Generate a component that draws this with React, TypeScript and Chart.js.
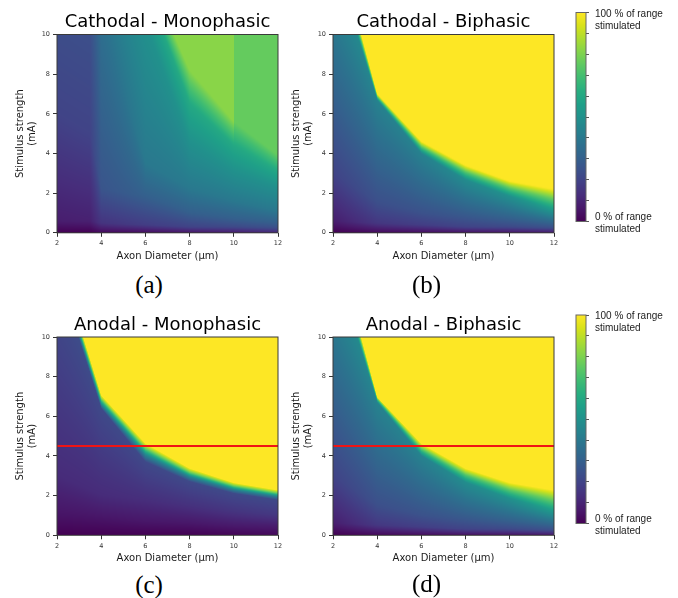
import React, { useEffect, useRef } from 'react';
import { Chart, registerables } from 'chart.js';

Chart.register(...registerables);

// ---------- axes ----------
const diameterRange = [2, 12];
const strengthRange = [0, 10];
const redLineStrength = 4.5;
const colorbarTopLabel = ['100 % of range', 'stimulated'];
const colorbarBottomLabel = ['0 % of range', 'stimulated'];

// ---------- data: per axon diameter column, strength knots (mA) and fraction of range stimulated ----------
// Cathodal - Monophasic (column at 10 appears twice: the map jumps there)
const cathMonoDiameters = [2, 3.5, 4, 6, 8, 10, 10, 12];
const cathMonoStrengths = [
  [0, 0.6, 6, 14, 20, 26, 30, 40],
  [0, 0.6, 5, 14, 20, 26, 30, 40],
  [0, 0.5, 2.2, 11, 15, 18, 22, 40],
  [0, 0.4, 1.8, 3.5, 10.6, 12.5, 13.3, 40],
  [0, 0.3, 1.0, 2.2, 4.6, 6.5, 8.2, 40],
  [0, 0.3, 0.7, 1.6, 3.1, 4.4, 5.6, 40],
  [0, 0.3, 0.7, 1.6, 3.1, 4.4, 5.6, 40],
  [0, 0.25, 0.5, 1.1, 2.3, 3.1, 3.9, 40],
];
const cathMonoFractions = [
  [0, 0.08, 0.2, 0.26, 0.3, 0.34, 0.4, 0.4],
  [0, 0.09, 0.2, 0.27, 0.31, 0.35, 0.4, 0.4],
  [0.02, 0.15, 0.26, 0.37, 0.45, 0.5, 0.6, 0.6],
  [0.03, 0.18, 0.3, 0.4, 0.5, 0.6, 0.82, 0.82],
  [0.05, 0.2, 0.3, 0.4, 0.5, 0.6, 0.82, 0.82],
  [0.07, 0.22, 0.3, 0.4, 0.5, 0.6, 0.82, 0.82],
  [0.07, 0.22, 0.3, 0.4, 0.5, 0.6, 0.76, 0.76],
  [0.1, 0.24, 0.3, 0.4, 0.5, 0.6, 0.76, 0.76],
];

// Cathodal - Biphasic
const cathBiDiameters = [2, 4, 6, 8, 10, 12];
const cathBiStrengths = [
  [0, 0.6, 3, 14, 14.6, 15.3, 40],
  [0, 0.5, 1.5, 6.7, 6.85, 7.0, 40],
  [0, 0.4, 1.0, 4.0, 4.3, 4.6, 40],
  [0, 0.3, 0.8, 2.68, 3.05, 3.4, 40],
  [0, 0.3, 0.7, 1.85, 2.25, 2.6, 40],
  [0, 0.25, 0.5, 1.2, 1.7, 2.2, 40],
];
const cathBiFractions = [
  [0, 0.08, 0.2, 0.5, 0.7, 1, 1],
  [0.02, 0.16, 0.24, 0.44, 0.7, 1, 1],
  [0.03, 0.18, 0.25, 0.44, 0.7, 1, 1],
  [0.04, 0.2, 0.27, 0.48, 0.72, 1, 1],
  [0.05, 0.22, 0.3, 0.5, 0.74, 1, 1],
  [0.06, 0.24, 0.32, 0.56, 0.76, 1, 1],
];

// Anodal - Monophasic
const anoMonoDiameters = [2, 4, 6, 8, 10, 12];
const anoMonoStrengths = [
  [0, 1.0, 3, 13.4, 13.7, 14.0, 14.3, 40],
  [0, 0.8, 2.0, 6.4, 6.6, 6.85, 7.07, 40],
  [0, 0.7, 1.8, 3.7, 4.05, 4.35, 4.63, 40],
  [0, 0.6, 1.5, 2.7, 2.95, 3.15, 3.37, 40],
  [0, 0.5, 1.2, 2.1, 2.3, 2.47, 2.64, 40],
  [0, 0.5, 1.0, 1.77, 1.95, 2.1, 2.27, 40],
];
const anoMonoFractions = [
  [0, 0.05, 0.12, 0.24, 0.45, 0.75, 1, 1],
  [0, 0.05, 0.12, 0.22, 0.45, 0.75, 1, 1],
  [0, 0.06, 0.13, 0.22, 0.45, 0.75, 1, 1],
  [0, 0.06, 0.14, 0.22, 0.45, 0.75, 1, 1],
  [0.01, 0.07, 0.15, 0.22, 0.45, 0.75, 1, 1],
  [0.02, 0.08, 0.16, 0.22, 0.45, 0.75, 1, 1],
];

// Anodal - Biphasic
const anoBiDiameters = [2, 4, 6, 8, 10, 12];
const anoBiStrengths = [
  [0, 0.6, 3, 14, 14.6, 15.3, 40],
  [0, 0.5, 1.5, 6.7, 6.85, 6.97, 40],
  [0, 0.4, 1.0, 4.0, 4.3, 4.62, 40],
  [0, 0.3, 0.8, 2.66, 3.02, 3.36, 40],
  [0, 0.3, 0.7, 1.85, 2.27, 2.64, 40],
  [0, 0.25, 0.5, 1.25, 1.75, 2.27, 40],
];
const anoBiFractions = [
  [0, 0.08, 0.2, 0.5, 0.7, 1, 1],
  [0.02, 0.16, 0.24, 0.44, 0.7, 1, 1],
  [0.03, 0.18, 0.25, 0.44, 0.7, 1, 1],
  [0.04, 0.2, 0.27, 0.48, 0.72, 1, 1],
  [0.05, 0.22, 0.3, 0.5, 0.74, 1, 1],
  [0.06, 0.24, 0.32, 0.56, 0.76, 1, 1],
];

// ---------- viridis ----------
const viridisStops = [
  '#440154', '#48186a', '#472d7b', '#424086', '#3b528b', '#33638d', '#2c728e', '#26828e',
  '#21918c', '#1fa088', '#28ae80', '#3fbc73', '#5ec962', '#84d44b', '#addc30', '#d8e219', '#fde725',
];
const viridisRgb = viridisStops.map((h) => [
  parseInt(h.slice(1, 3), 16),
  parseInt(h.slice(3, 5), 16),
  parseInt(h.slice(5, 7), 16),
]);
function viridis(v: number): number[] {
  const c = Math.min(1, Math.max(0, v)) * (viridisRgb.length - 1);
  const i = Math.min(viridisRgb.length - 2, Math.floor(c));
  const t = c - i;
  const a = viridisRgb[i];
  const b = viridisRgb[i + 1];
  return [a[0] + (b[0] - a[0]) * t, a[1] + (b[1] - a[1]) * t, a[2] + (b[2] - a[2]) * t];
}

type Field = { diameters: number[]; strengths: number[][]; fractions: number[][] };

function fieldAt(f: Field, x: number, y: number): number {
  const D = f.diameters;
  const n = D.length;
  let i = n - 2;
  if (x < D[0]) i = 0;
  else {
    for (let j = 0; j < n - 1; j++) {
      if (x >= D[j] && x < D[j + 1]) {
        i = j;
        break;
      }
    }
  }
  const span = D[i + 1] - D[i];
  const t = span > 0 ? Math.min(1, Math.max(0, (x - D[i]) / span)) : 0;
  const S0 = f.strengths[i], S1 = f.strengths[i + 1];
  const V0 = f.fractions[i], V1 = f.fractions[i + 1];
  let ps = S0[0] * (1 - t) + S1[0] * t;
  let pv = V0[0] * (1 - t) + V1[0] * t;
  if (y <= ps) return pv;
  for (let k = 1; k < S0.length; k++) {
    const s = S0[k] * (1 - t) + S1[k] * t;
    const v = V0[k] * (1 - t) + V1[k] * t;
    if (y <= s) {
      const u = s > ps ? (y - ps) / (s - ps) : 1;
      return pv + (v - pv) * u;
    }
    ps = s;
    pv = v;
  }
  return pv;
}

function makeHeatmapPlugin(field: Field) {
  return {
    id: 'heatmap',
    beforeDatasetsDraw(chart: any) {
      const { ctx, chartArea: ca, scales } = chart;
      const xs = scales.x, ys = scales.y;
      const w = Math.round(ca.right - ca.left);
      const h = Math.round(ca.bottom - ca.top);
      const off = document.createElement('canvas');
      off.width = w;
      off.height = h;
      const octx = off.getContext('2d')!;
      const img = octx.createImageData(w, h);
      const sx = (ca.right - ca.left) / w;
      const sy = (ca.bottom - ca.top) / h;
      for (let px = 0; px < w; px++) {
        const xv = xs.getValueForPixel(ca.left + (px + 0.5) * sx);
        for (let py = 0; py < h; py++) {
          const yv = ys.getValueForPixel(ca.top + (py + 0.5) * sy);
          const c = viridis(fieldAt(field, xv, yv));
          const o = (py * w + px) * 4;
          img.data[o] = c[0];
          img.data[o + 1] = c[1];
          img.data[o + 2] = c[2];
          img.data[o + 3] = 255;
        }
      }
      octx.putImageData(img, 0, 0);
      ctx.save();
      ctx.drawImage(off, ca.left, ca.top, ca.right - ca.left, ca.bottom - ca.top);
      ctx.restore();
    },
    afterDatasetsDraw(chart: any) {
      const { ctx, chartArea: ca } = chart;
      ctx.save();
      ctx.strokeStyle = '#3a3a3a';
      ctx.lineWidth = 1;
      ctx.strokeRect(ca.left, ca.top, ca.right - ca.left, ca.bottom - ca.top);
      ctx.restore();
    },
  };
}

const PANEL_W = 290;
const PANEL_H = 268;
const tickFont = { family: 'DejaVu Sans', size: 6.5 };
const labelFont = { family: 'DejaVu Sans', size: 10, lineHeight: 1.15 };

function Panel(props: { left: number; top: number; title: string; field: Field; redLine: boolean; extraTop: number }) {
  const ref = useRef<HTMLCanvasElement>(null);
  useEffect(() => {
    const datasets: any[] = [];
    if (props.redLine) {
      datasets.push({
        type: 'line',
        data: [
          { x: diameterRange[0], y: redLineStrength },
          { x: diameterRange[1], y: redLineStrength },
        ],
        borderColor: '#f01414',
        borderWidth: 2,
        pointRadius: 0,
        fill: false,
      });
    }
    const chart = new Chart(ref.current!, {
      type: 'scatter',
      data: { datasets },
      plugins: [makeHeatmapPlugin(props.field)],
      options: {
        animation: false,
        responsive: false,
        events: [],
        layout: { padding: { left: 0, right: 12, top: 0, bottom: 0 } },
        plugins: {
          legend: { display: false },
          tooltip: { enabled: false },
          title: {
            display: true,
            text: props.title,
            fullSize: false,
            color: '#000',
            font: { family: 'DejaVu Sans', size: 18, weight: 'normal' },
            padding: { top: 12 + props.extraTop, bottom: 0.9 },
          },
        },
        scales: {
          x: {
            type: 'linear',
            min: diameterRange[0],
            max: diameterRange[1],
            afterFit: (s: any) => {
              s.height = 35.2 - props.extraTop;
            },
            ticks: { stepSize: 2, font: tickFont, color: '#333', padding: 3, maxRotation: 0 },
            grid: { drawOnChartArea: false, drawTicks: true, tickLength: 4, color: '#333' },
            border: { display: false },
            title: {
              display: true,
              text: 'Axon Diameter (µm)',
              font: labelFont,
              color: '#1a1a1a',
              padding: { top: 0, bottom: 6.25 - props.extraTop },
            },
          },
          y: {
            type: 'linear',
            min: strengthRange[0],
            max: strengthRange[1],
            afterFit: (s: any) => {
              s.width = 57;
            },
            ticks: { stepSize: 2, font: tickFont, color: '#333', padding: 3 },
            grid: { drawOnChartArea: false, drawTicks: true, tickLength: 4, color: '#333' },
            border: { display: false },
            title: {
              display: true,
              text: ['Stimulus strength', '(mA)'],
              font: labelFont,
              color: '#1a1a1a',
              padding: { top: 14.75, bottom: 0 },
            },
          },
        },
      } as any,
    });
    return () => chart.destroy();
  }, []);
  return (
    <canvas
      ref={ref}
      width={PANEL_W}
      height={PANEL_H}
      style={{ position: 'absolute', left: props.left, top: props.top, width: PANEL_W, height: PANEL_H }}
    />
  );
}

function Colorbar(props: { left: number; top: number; height: number; padTop: number; padBottom: number }) {
  const ref = useRef<HTMLCanvasElement>(null);
  useEffect(() => {
    const cbPlugin = {
      id: 'cbar',
      beforeDatasetsDraw(chart: any) {
        const { ctx, chartArea: ca, scales } = chart;
        const ys = scales.y;
        const top = Math.floor(ca.top);
        const bottom = Math.ceil(ca.bottom);
        for (let py = top; py < bottom; py++) {
          const v = ys.getValueForPixel(py + 0.5);
          const c = viridis(v);
          ctx.fillStyle = `rgb(${Math.round(c[0])},${Math.round(c[1])},${Math.round(c[2])})`;
          ctx.fillRect(ca.left, py, ca.right - ca.left, 1);
        }
        ctx.save();
        ctx.strokeStyle = '#666';
        ctx.lineWidth = 1;
        ctx.strokeRect(ca.left, ca.top, ca.right - ca.left, ca.bottom - ca.top);
        ctx.restore();
      },
      afterDraw(chart: any) {
        const { ctx, chartArea: ca, scales } = chart;
        const ys = scales.y;
        ctx.save();
        ctx.font = '10px "Liberation Sans", Arial, sans-serif';
        ctx.fillStyle = '#222';
        ctx.textAlign = 'left';
        ctx.textBaseline = 'middle';
        const x = ca.right + 9;
        const yTop = ys.getPixelForValue(1);
        colorbarTopLabel.forEach((t, i) => ctx.fillText(t, x, yTop + 1.5 + i * 12));
        const yBot = ys.getPixelForValue(0);
        colorbarBottomLabel.forEach((t, i) => ctx.fillText(t, x, yBot - 4 + i * 11.8));
        ctx.restore();
      },
    };
    const chart = new Chart(ref.current!, {
      type: 'scatter',
      data: { datasets: [] },
      plugins: [cbPlugin],
      options: {
        animation: false,
        responsive: false,
        events: [],
        layout: { padding: { left: 16, right: 82, top: props.padTop, bottom: props.padBottom } },
        plugins: { legend: { display: false }, tooltip: { enabled: false } },
        scales: {
          x: { type: 'linear', display: false, min: 0, max: 1 },
          y: {
            type: 'linear',
            position: 'right',
            min: 0,
            max: 1,
            afterFit: (s: any) => {
              s.width = 10;
            },
            ticks: { stepSize: 0.1, callback: () => '', padding: 0 },
            grid: { drawOnChartArea: false, drawTicks: true, tickLength: 3, color: '#555' },
            border: { display: false },
          },
        },
      } as any,
    });
    return () => chart.destroy();
  }, []);
  return (
    <canvas
      ref={ref}
      width={118}
      height={props.height}
      style={{ position: 'absolute', left: props.left, top: props.top, width: 118, height: props.height }}
    />
  );
}

function Caption(props: { x: number; y: number; text: string }) {
  return (
    <div
      style={{
        position: 'absolute',
        left: props.x - 40,
        top: props.y - 14.6,
        width: 80,
        textAlign: 'center',
        fontFamily: '"Liberation Serif", "Times New Roman", serif',
        fontSize: 25,
        lineHeight: '25px',
        color: '#000',
      }}
    >
      {props.text}
    </div>
  );
}

const cathMono: Field = { diameters: cathMonoDiameters, strengths: cathMonoStrengths, fractions: cathMonoFractions };
const cathBi: Field = { diameters: cathBiDiameters, strengths: cathBiStrengths, fractions: cathBiFractions };
const anoMono: Field = { diameters: anoMonoDiameters, strengths: anoMonoStrengths, fractions: anoMonoFractions };
const anoBi: Field = { diameters: anoBiDiameters, strengths: anoBiStrengths, fractions: anoBiFractions };

export default function App() {
  return (
    <div style={{ position: 'absolute', left: 0, top: 0, width: 678, height: 598, background: '#fff', overflow: 'hidden' }}>
      <Panel left={0} top={0} title="Cathodal - Monophasic" field={cathMono} redLine={false} extraTop={0} />
      <Panel left={276} top={0} title="Cathodal - Biphasic" field={cathBi} redLine={false} extraTop={0} />
      <Panel left={0} top={302} title="Anodal - Monophasic" field={anoMono} redLine={true} extraTop={0.5} />
      <Panel left={276} top={302} title="Anodal - Biphasic" field={anoBi} redLine={true} extraTop={0.5} />
      <Colorbar left={560} top={0} height={240} padTop={12.5} padBottom={18.5} />
      <Colorbar left={560} top={300} height={240} padTop={15} padBottom={16.5} />
      <Caption x={149} y={287} text="(a)" />
      <Caption x={426.5} y={287} text="(b)" />
      <Caption x={149} y={586.5} text="(c)" />
      <Caption x={426.5} y={586} text="(d)" />
    </div>
  );
}
